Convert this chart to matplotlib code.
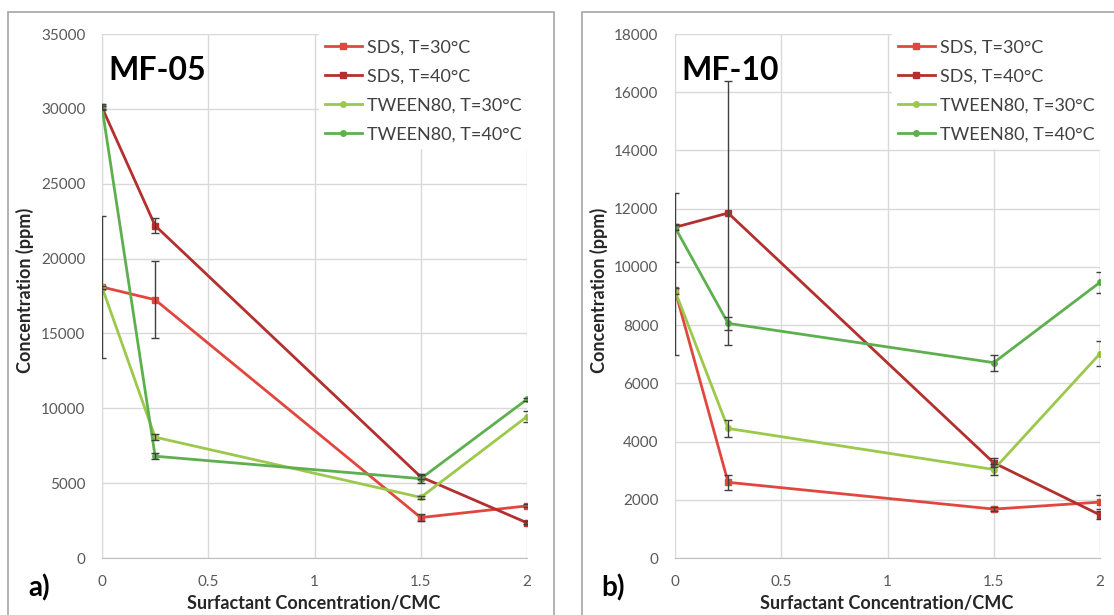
import matplotlib
matplotlib.use("Agg")
import matplotlib.pyplot as plt
from matplotlib.patches import Rectangle

plt.rcParams['font.family'] = ['Lato', 'DejaVu Sans']

x = [0, 0.25, 1.5, 2]
labels = ['SDS, T=30°C', 'SDS, T=40°C', 'TWEEN80, T=30°C', 'TWEEN80, T=40°C']
colors = ['#E0473E', '#B3302E', '#9CC84C', '#5EB04F']
markers = ['s', 's', 'o', 'o']

# MF-05 (ppm)
mf05_sds30 = [18100, 17250, 2700, 3480]
mf05_sds40 = [30100, 22200, 5420, 2350]
mf05_tw30 = [18100, 8070, 4050, 9450]
mf05_tw40 = [30100, 6800, 5300, 10600]
mf05_err_sds30 = [4730, 2560, 260, 100]
mf05_err_sds40 = [200, 520, 150, 100]
mf05_err_tw30 = [100, 180, 100, 350]
mf05_err_tw40 = [100, 220, 280, 100]

# MF-10 (ppm)
mf10_sds30 = [9200, 2600, 1680, 1920]
mf10_sds40 = [11360, 11850, 3270, 1480]
mf10_tw30 = [9180, 4450, 3040, 7020]
mf10_tw40 = [11360, 8060, 6710, 9470]
mf10_err_sds30 = [2230, 260, 80, 240]
mf10_err_sds40 = [1190, 4550, 150, 150]
mf10_err_tw30 = [100, 300, 200, 430]
mf10_err_tw40 = [100, 230, 280, 350]

W, H = 1114, 615
fig = plt.figure(figsize=(W / 100, H / 100), dpi=100)
fig.patch.set_facecolor('white')

# chart area borders
fig.patches.append(Rectangle((8 / W, -0.05), 546 / W, (H - 12) / H + 0.05,
                             transform=fig.transFigure, fill=False,
                             edgecolor='#A6A6A6', lw=1.2))
fig.patches.append(Rectangle((582 / W, -0.05), 0.6, (H - 12) / H + 0.05,
                             transform=fig.transFigure, fill=False,
                             edgecolor='#A6A6A6', lw=1.2))


def panel(left_px, series, errs, ymax, title, tag, ylab_px):
    ax = fig.add_axes([left_px / W, (H - 558) / H, 425 / W, (558 - 34) / H])
    for ys, es, lab, c, m in zip(series, errs, labels, colors, markers):
        ax.plot(x, ys, color=c, lw=2, marker=m, ms=4, label=lab, zorder=3)
        ax.errorbar(x, ys, yerr=es, fmt='none', ecolor='#404040',
                    elinewidth=1, capsize=3, capthick=1, zorder=4)
    ax.set_xlim(0, 2)
    ax.set_ylim(0, ymax)
    ax.set_xticks([0, 0.5, 1, 1.5, 2])
    ax.set_xticklabels(['0', '0.5', '1', '1.5', '2'])
    ax.grid(True, color='#D9D9D9', lw=1)
    ax.set_axisbelow(True)
    for s in ['top', 'right']:
        ax.spines[s].set_visible(False)
    ax.spines['left'].set_color('#D9D9D9')
    ax.spines['bottom'].set_color('#BFBFBF')
    ax.tick_params(length=0, labelsize=11, colors='#595959')
    ax.tick_params(axis='x', pad=12)
    ax.tick_params(axis='y', pad=12)
    leg = ax.legend(loc='upper right', frameon=True, fontsize=13,
                    handlelength=2.1, handletextpad=0.25, labelspacing=0.72,
                    borderaxespad=0, fancybox=False, borderpad=0.3)
    leg.get_frame().set_edgecolor('white')
    leg.get_frame().set_alpha(1)
    for t in leg.get_texts():
        t.set_color('#404040')
    ax.text(0.015, 0.93, title, transform=ax.transAxes, fontsize=23,
            fontweight='bold', va='center', ha='left', color='black')
    fig.text(ylab_px / W, 1 - 290 / H, 'Concentration (ppm)', rotation=90,
             fontsize=13, fontweight='bold', color='#262626',
             ha='center', va='center')
    fig.text((left_px + 212) / W, 1 - 603 / H, 'Surfactant Concentration/CMC',
             fontsize=13, fontweight='bold', color='#262626',
             ha='center', va='center')
    fig.text((left_px - 74) / W, 1 - 588 / H, tag, fontsize=20,
             fontweight='bold', ha='left', va='center', color='black')
    return ax


panel(102, [mf05_sds30, mf05_sds40, mf05_tw30, mf05_tw40],
      [mf05_err_sds30, mf05_err_sds40, mf05_err_tw30, mf05_err_tw40],
      35000, 'MF-05', 'a)', 25)
panel(675, [mf10_sds30, mf10_sds40, mf10_tw30, mf10_tw40],
      [mf10_err_sds30, mf10_err_sds40, mf10_err_tw30, mf10_err_tw40],
      18000, 'MF-10', 'b)', 599)

fig.savefig('out.png', dpi=100)
